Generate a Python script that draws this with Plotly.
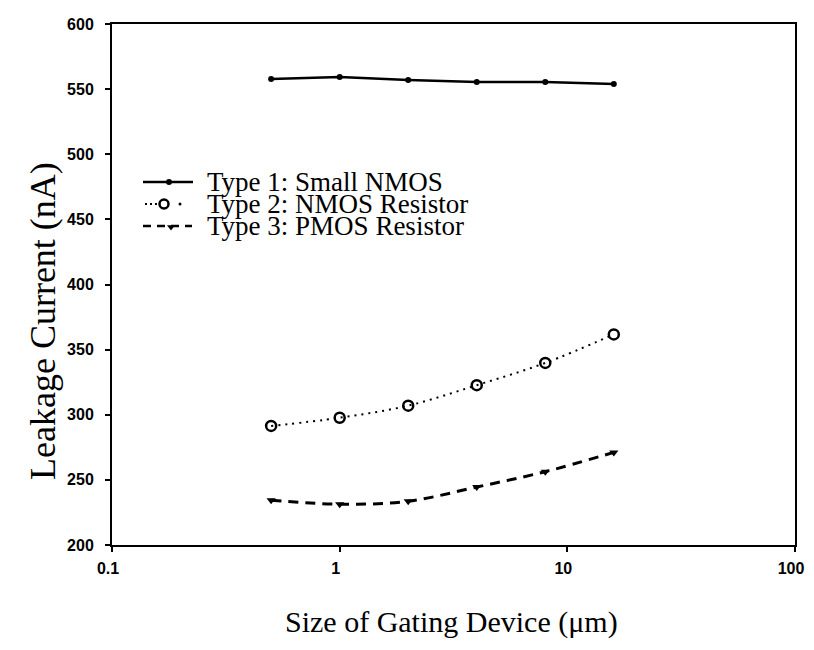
import plotly.graph_objects as go

# ---- data ----
sizes = [0.5, 1, 2, 4, 8, 16]                      # Size of gating device (um)
type1 = [557.8, 559.4, 557.0, 555.5, 555.5, 553.9]  # Small NMOS (nA)
type2 = [291.4, 297.7, 307.0, 322.7, 339.8, 361.7]  # NMOS Resistor (nA)
type3 = [234.4, 231.3, 233.6, 244.5, 256.3, 271.1]  # PMOS Resistor (nA)

series_names = ["Type 1: Small NMOS", "Type 2: NMOS Resistor", "Type 3: PMOS Resistor"]
x_tick_vals = [0.1, 1, 10, 100]
x_tick_text = ["0.1", "1", "10", "100"]
y_tick_vals = [200, 250, 300, 350, 400, 450, 500, 550, 600]

x_title = "Size of Gating Device (\u03bcm)"
y_title = "Leakage Current (nA)"

# ---- layout geometry ----
# The page body has an 8px margin, so the figure is drawn at (8, 8) in the window.
OFF = 8
W, H = 814 - 2 * OFF, 650 - 2 * OFF
PL, PR, PT, PB = 112, 795, 24, 545          # plot-area edges in window pixels
L, T = PL - OFF, PT - OFF
R = W - (PR - OFF)
B = H - (PB - OFF)
PW, PH = PR - PL, PB - PT


def px(xw):
    return (xw - PL) / PW


def py(yw):
    return (PB - yw) / PH


serif = "Liberation Serif, Times New Roman, serif"
sans = "Liberation Sans, Arial, sans-serif"

fig = go.Figure()

fig.add_trace(go.Scatter(
    x=sizes, y=type1, mode="lines+markers", name=series_names[0],
    line=dict(color="black", width=2.5),
    marker=dict(symbol="circle", size=6, color="black"),
    showlegend=False))

fig.add_trace(go.Scatter(
    x=sizes, y=type2, mode="lines+markers", name=series_names[1],
    line=dict(color="black", width=2, dash="2px,5px", shape="spline"),
    marker=dict(symbol="circle-open", size=10, color="black", line=dict(width=2.5)),
    showlegend=False))

fig.add_trace(go.Scatter(
    x=sizes, y=type3, mode="lines+markers", name=series_names[2],
    line=dict(color="black", width=3, dash="10px,7px", shape="spline"),
    marker=dict(symbol="triangle-down", size=8, color="black"),
    showlegend=False))

# ---- legend samples (drawn on a hidden overlay axis in window-pixel units) ----
leg_y = [182, 204, 226]
sample = dict(xaxis="x2", yaxis="y2", showlegend=False, hoverinfo="skip")
fig.add_trace(go.Scatter(x=[143, 193], y=[leg_y[0]] * 2, mode="lines",
                         line=dict(color="black", width=2.5), **sample))
fig.add_trace(go.Scatter(x=[169], y=[leg_y[0]], mode="markers",
                         marker=dict(symbol="circle", size=6, color="black"), **sample))
fig.add_trace(go.Scatter(x=[145, 157], y=[leg_y[1]] * 2, mode="lines",
                         line=dict(color="black", width=2, dash="2px,3px"), **sample))
fig.add_trace(go.Scatter(x=[164], y=[leg_y[1]], mode="markers",
                         marker=dict(symbol="circle-open", size=9, color="black",
                                     line=dict(width=2.5)), **sample))
fig.add_trace(go.Scatter(x=[180], y=[leg_y[1]], mode="markers",
                         marker=dict(symbol="circle", size=3, color="black"), **sample))
fig.add_trace(go.Scatter(x=[143, 192], y=[leg_y[2]] * 2, mode="lines",
                         line=dict(color="black", width=2.5, dash="8px,6px"), **sample))
fig.add_trace(go.Scatter(x=[171], y=[leg_y[2] + 1], mode="markers",
                         marker=dict(symbol="triangle-down", size=7, color="black"), **sample))

annotations = []
for name, yy in zip(series_names, leg_y):
    annotations.append(dict(text=name, x=px(205), y=py(yy), xref="paper", yref="paper",
                            xanchor="left", yanchor="middle", showarrow=False,
                            font=dict(family=serif, size=27, color="black")))
annotations.append(dict(text=x_title, x=px(451), y=py(641), xref="paper", yref="paper",
                        xanchor="center", yanchor="bottom", showarrow=False,
                        font=dict(family=serif, size=30, color="black")))
annotations.append(dict(text=y_title, x=px(43), y=py(321), xref="paper", yref="paper",
                        xanchor="center", yanchor="middle", showarrow=False, textangle=-90,
                        font=dict(family=serif, size=36, color="black")))

axis_common = dict(showline=True, linecolor="black", linewidth=2, mirror=True,
                   showgrid=False, zeroline=False, ticks="outside", ticklen=5,
                   tickwidth=2, tickcolor="black", automargin=False,
                   tickfont=dict(family=sans, size=16, color="black", weight="bold"))

fig.update_layout(
    width=W, height=H,
    margin=dict(l=L, r=R, t=T, b=B, pad=0),
    paper_bgcolor="white", plot_bgcolor="white",
    xaxis=dict(type="log", range=[-1, 2], tickvals=x_tick_vals, ticktext=x_tick_text,
               ticklabelstandoff=3, ticklabelshift=-4, **axis_common),
    yaxis=dict(range=[200, 600], tickvals=y_tick_vals, ticklabelstandoff=8, **axis_common),
    xaxis2=dict(overlaying="x", anchor="y2", range=[PL, PR], visible=False),
    yaxis2=dict(overlaying="y", anchor="x2", range=[PB, PT], visible=False),
    annotations=annotations,
)

fig.write_html("out.html")
